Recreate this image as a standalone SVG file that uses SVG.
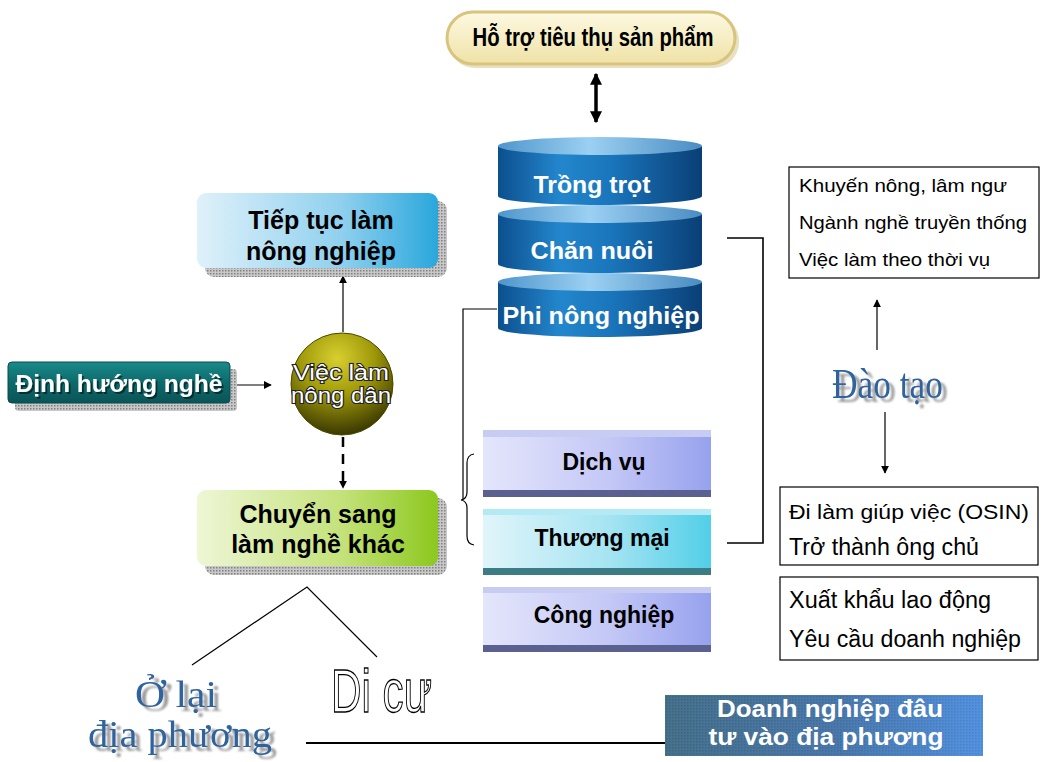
<svg xmlns="http://www.w3.org/2000/svg" width="1045" height="762" viewBox="0 0 1045 762">
<defs>
<style>
.ln{stroke:#000;stroke-width:1.6;fill:none}
.thin{stroke:#000;stroke-width:1.2;fill:none}
.bx{fill:#fff;stroke:#000;stroke-width:1.2}
.bt{font-family:"Liberation Sans",Arial,sans-serif;font-weight:bold;fill:#000}
.wt{font-family:"Liberation Sans",Arial,sans-serif;font-weight:bold;fill:#fff}
.rt{font-family:"Liberation Sans",Arial,sans-serif;fill:#000}
.sf{font-family:"Liberation Serif","Times New Roman",serif;fill:#2f649e}
</style>
<pattern id="dots" width="3" height="3" patternUnits="userSpaceOnUse">
<rect width="3" height="3" fill="#c8c8c8"/><rect width="1.5" height="1.5" fill="#808080"/>
</pattern>
<linearGradient id="gPill" x1="0" y1="0" x2="0" y2="1"><stop offset="0" stop-color="#fdf9e2"/><stop offset="1" stop-color="#efe2a6"/></linearGradient>
<linearGradient id="gBlueBox" x1="0" y1="0" x2="1" y2="0"><stop offset="0" stop-color="#dff1fa"/><stop offset="0.6" stop-color="#8fd0ee"/><stop offset="1" stop-color="#2aa7dc"/></linearGradient>
<linearGradient id="gGreenBox" x1="0" y1="0" x2="1" y2="0"><stop offset="0" stop-color="#eef6d6"/><stop offset="0.6" stop-color="#c4e27a"/><stop offset="1" stop-color="#8cc81e"/></linearGradient>
<linearGradient id="gTeal" x1="0" y1="0" x2="0" y2="1"><stop offset="0" stop-color="#1a8a8a"/><stop offset="0.5" stop-color="#0d6a6c"/><stop offset="1" stop-color="#0a5456"/></linearGradient>
<radialGradient id="gBall" cx="0.45" cy="0.25" r="0.8"><stop offset="0" stop-color="#d8d030"/><stop offset="0.45" stop-color="#a09a0a"/><stop offset="1" stop-color="#2e2c00"/></radialGradient>
<linearGradient id="gCyl" x1="0" y1="0" x2="1" y2="0"><stop offset="0" stop-color="#0c4f8e"/><stop offset="0.3" stop-color="#2386cc"/><stop offset="0.55" stop-color="#1a76bc"/><stop offset="1" stop-color="#0a3f76"/></linearGradient>
<linearGradient id="gCap" x1="0" y1="0" x2="1" y2="0"><stop offset="0" stop-color="#4f96cc"/><stop offset="0.45" stop-color="#9bd0f2"/><stop offset="1" stop-color="#4a8cc2"/></linearGradient>
<linearGradient id="gLav" x1="0" y1="0" x2="1" y2="0"><stop offset="0" stop-color="#e4e6fb"/><stop offset="0.55" stop-color="#c4c8f6"/><stop offset="1" stop-color="#97a2ee"/></linearGradient>
<linearGradient id="gCyan" x1="0" y1="0" x2="1" y2="0"><stop offset="0" stop-color="#e0f5fa"/><stop offset="0.55" stop-color="#a6e4f2"/><stop offset="1" stop-color="#52cfe8"/></linearGradient>
<linearGradient id="gDoanh" x1="0" y1="0" x2="1" y2="0"><stop offset="0" stop-color="#2b5e7e"/><stop offset="0.55" stop-color="#3068a6"/><stop offset="1" stop-color="#3b86e4"/></linearGradient>
<filter id="greyShadow" x="-10%" y="-20%" width="130%" height="150%">
<feGaussianBlur in="SourceAlpha" stdDeviation="1.2" result="b"/>
<feOffset in="b" dx="5" dy="4" result="o"/>
<feFlood flood-color="#9a9a9a"/>
<feComposite in2="o" operator="in" result="s"/>
<feMerge><feMergeNode in="s"/><feMergeNode in="SourceGraphic"/></feMerge>
</filter>
<filter id="darkShadow" x="-10%" y="-20%" width="130%" height="150%">
<feOffset in="SourceAlpha" dx="2" dy="2" result="o"/>
<feFlood flood-color="#000" flood-opacity="0.5"/>
<feComposite in2="o" operator="in" result="s"/>
<feMerge><feMergeNode in="s"/><feMergeNode in="SourceGraphic"/></feMerge>
</filter>
<marker id="ah" viewBox="0 0 10 10" refX="9" refY="5" markerWidth="8" markerHeight="8" markerUnits="userSpaceOnUse" orient="auto-start-reverse"><path d="M0,0 L10,5 L0,10 Z" fill="#000"/></marker>
<marker id="ahBig" viewBox="0 0 10 10" refX="9" refY="5" markerWidth="12" markerHeight="14" markerUnits="userSpaceOnUse" orient="auto-start-reverse"><path d="M0,0 L10,5 L0,10 Z" fill="#000"/></marker>
</defs>

<g id="connectors">
<line x1="596" y1="74" x2="596" y2="122" stroke="#000" stroke-width="3.5" marker-start="url(#ahBig)" marker-end="url(#ahBig)"/>
<line x1="343" y1="332" x2="343" y2="276" class="thin" marker-end="url(#ah)"/>
<line x1="233" y1="385" x2="271" y2="385" class="thin" marker-end="url(#ah)"/>
<line x1="343" y1="437" x2="343" y2="488" stroke="#000" stroke-width="2.5" stroke-dasharray="10,7" marker-end="url(#ah)"/>
<polyline points="497,309 463,309 463,499" class="thin"/>
<path d="M474,454 Q467,455 467,463 L467,492 Q467,499 461,500 Q467,501 467,508 L467,536 Q467,544 474,545" class="thin"/>
<polyline points="727,238 763,238 763,543 727,543" class="ln"/>
<line x1="877" y1="350" x2="877" y2="300" class="thin" marker-end="url(#ah)"/>
<line x1="885" y1="412" x2="885" y2="473" class="thin" marker-end="url(#ah)"/>
<polyline points="192,665 307,587 377,657" class="thin"/>
<line x1="306" y1="743" x2="665" y2="743" stroke="#000" stroke-width="2"/>
</g>

<g id="n-hotro">
<rect x="449" y="15" width="290" height="53" rx="26" fill="#d8cc98" opacity="0.6"/>
<rect x="447" y="12" width="288" height="52" rx="26" fill="url(#gPill)" stroke="#d8c47c" stroke-width="3"/>
<text x="593" y="46" class="bt" font-size="25" text-anchor="middle" textLength="241" lengthAdjust="spacingAndGlyphs">Hỗ trợ tiêu thụ sản phẩm</text>
</g>

<g id="n-cylinder">
<path d="M498,282 L498,328 A102,9 0 0 0 702,328 L702,282 Z" fill="url(#gCyl)"/>
<ellipse cx="600" cy="282" rx="102" ry="9" fill="url(#gCap)"/>
<path d="M498,214 L498,264 A102,9 0 0 0 702,264 L702,214 Z" fill="url(#gCyl)"/>
<ellipse cx="600" cy="214" rx="102" ry="9" fill="url(#gCap)"/>
<path d="M498,146 L498,196 A102,9 0 0 0 702,196 L702,146 Z" fill="url(#gCyl)"/>
<ellipse cx="600" cy="146" rx="102" ry="9" fill="url(#gCap)"/>
<text x="592" y="193" class="wt" font-size="24" text-anchor="middle" textLength="117" lengthAdjust="spacingAndGlyphs">Trồng trọt</text>
<text x="592" y="259" class="wt" font-size="24" text-anchor="middle" textLength="123" lengthAdjust="spacingAndGlyphs">Chăn nuôi</text>
<text x="601" y="324" class="wt" font-size="24" text-anchor="middle" textLength="197" lengthAdjust="spacingAndGlyphs">Phi nông nghiệp</text>
</g>

<g id="n-tieptuc">
<rect x="205" y="201" width="242" height="76" rx="9" fill="url(#dots)"/>
<rect x="197" y="193" width="241" height="75" rx="9" fill="url(#gBlueBox)"/>
<text x="321" y="229" class="bt" font-size="25" text-anchor="middle">Tiếp tục làm</text>
<text x="321" y="260" class="bt" font-size="25" text-anchor="middle">nông nghiệp</text>
</g>

<g id="n-dinhhuong">
<rect x="15" y="369" width="222" height="42" rx="4" fill="url(#dots)"/>
<rect x="8" y="362" width="222" height="41" rx="4" fill="url(#gTeal)" stroke="#0a4a4c" stroke-width="1"/>
<text x="119" y="392" class="wt" font-size="24" text-anchor="middle" textLength="207" lengthAdjust="spacingAndGlyphs" filter="url(#darkShadow)">Định hướng nghề</text>
</g>

<g id="n-vieclam">
<circle cx="342" cy="384" r="51" fill="url(#gBall)" stroke="#4a4800" stroke-width="1"/>
<text x="341" y="380" font-family="Liberation Sans,Arial,sans-serif" font-size="22" fill="#fff" stroke="#222" stroke-width="2.2" paint-order="stroke" text-anchor="middle" textLength="96" lengthAdjust="spacingAndGlyphs">Việc làm</text>
<text x="341" y="403" font-family="Liberation Sans,Arial,sans-serif" font-size="22" fill="#fff" stroke="#222" stroke-width="2.2" paint-order="stroke" text-anchor="middle" textLength="100" lengthAdjust="spacingAndGlyphs">nông dân</text>
</g>

<g id="n-chuyensang">
<rect x="205" y="498" width="242" height="77" rx="9" fill="url(#dots)"/>
<rect x="197" y="490" width="241" height="76" rx="9" fill="url(#gGreenBox)"/>
<text x="318" y="523" class="bt" font-size="25" text-anchor="middle">Chuyển sang</text>
<text x="318" y="553" class="bt" font-size="25" text-anchor="middle">làm nghề khác</text>
</g>

<g id="n-dichvu">
<rect x="483" y="430" width="228" height="67" fill="url(#gLav)"/>
<rect x="483" y="430" width="228" height="7" fill="#c6ccf2"/>
<rect x="483" y="490" width="228" height="7" fill="#5a6090"/>
<text x="604" y="470" class="bt" font-size="23" text-anchor="middle">Dịch vụ</text>
</g>

<g id="n-thuongmai">
<rect x="483" y="509" width="228" height="66" fill="url(#gCyan)"/>
<rect x="483" y="509" width="228" height="6" fill="#b4eaf5"/>
<rect x="483" y="568" width="228" height="7" fill="#3c7c84"/>
<text x="602" y="546" class="bt" font-size="23" text-anchor="middle">Thương mại</text>
</g>

<g id="n-congnghiep">
<rect x="483" y="587" width="228" height="65" fill="url(#gLav)"/>
<rect x="483" y="587" width="228" height="6" fill="#c6ccf2"/>
<rect x="483" y="645" width="228" height="7" fill="#5a6090"/>
<text x="604" y="623" class="bt" font-size="23" text-anchor="middle">Công nghiệp</text>
</g>

<g id="n-khuyennong">
<rect x="789" y="167" width="250" height="111" class="bx"/>
<text x="799" y="192" class="rt" font-size="19" textLength="208" lengthAdjust="spacingAndGlyphs">Khuyến nông, lâm ngư</text>
<text x="799" y="229" class="rt" font-size="19" textLength="228" lengthAdjust="spacingAndGlyphs">Ngành nghề truyền thống</text>
<text x="799" y="266" class="rt" font-size="19" textLength="191" lengthAdjust="spacingAndGlyphs">Việc làm theo thời vụ</text>
</g>

<g id="n-daotao">
<text x="832" y="398" class="sf" font-size="42" textLength="111" lengthAdjust="spacingAndGlyphs" filter="url(#greyShadow)">Đào tạo</text>
</g>

<g id="n-dilam">
<rect x="780" y="487" width="258" height="78" class="bx"/>
<text x="789" y="519" class="rt" font-size="20" textLength="240" lengthAdjust="spacingAndGlyphs">Đi làm giúp việc (OSIN)</text>
<text x="789" y="555" class="rt" font-size="23" textLength="190" lengthAdjust="spacingAndGlyphs">Trở thành ông chủ</text>
</g>

<g id="n-xuatkhau">
<rect x="780" y="577" width="258" height="83" class="bx"/>
<text x="789" y="608" class="rt" font-size="23" textLength="202" lengthAdjust="spacingAndGlyphs">Xuất khẩu lao động</text>
<text x="789" y="647" class="rt" font-size="23" textLength="232" lengthAdjust="spacingAndGlyphs">Yêu cầu doanh nghiệp</text>
</g>

<g id="n-olai">
<text x="176" y="707" class="sf" font-size="38" text-anchor="middle" textLength="82" lengthAdjust="spacingAndGlyphs" filter="url(#greyShadow)">Ở lại</text>
<text x="180" y="747" class="sf" font-size="38" text-anchor="middle" textLength="184" lengthAdjust="spacingAndGlyphs" filter="url(#greyShadow)">địa phương</text>
</g>

<g id="n-dicu">
<text x="331" y="712" font-family="Liberation Sans,Arial,sans-serif" font-size="62" fill="#fff" stroke="#000" stroke-width="1.3" textLength="101" lengthAdjust="spacingAndGlyphs">Di cư</text>
</g>

<g id="n-doanhnghiep">
<rect x="665" y="695" width="318" height="61" fill="url(#gDoanh)"/>
<rect x="665" y="695" width="318" height="61" fill="url(#dots)" opacity="0.18"/>
<text x="830" y="717" class="wt" font-size="24" text-anchor="middle" textLength="226" lengthAdjust="spacingAndGlyphs">Doanh nghiệp đâu</text>
<text x="826" y="745" class="wt" font-size="24" text-anchor="middle" textLength="235" lengthAdjust="spacingAndGlyphs">tư vào địa phương</text>
</g>
</svg>
